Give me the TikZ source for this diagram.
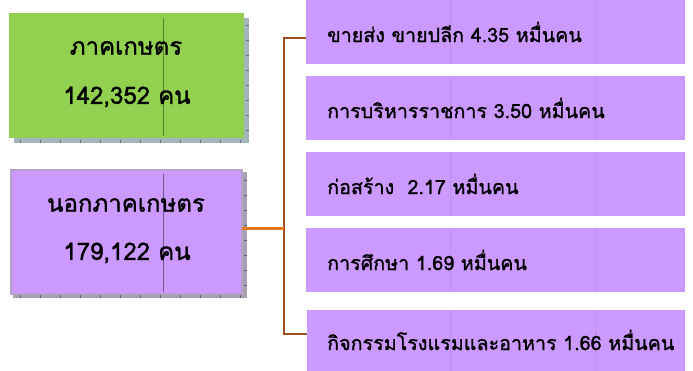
\documentclass[tikz,border=0pt]{standalone}
\usepackage{fontspec}
\newfontfamily\thai[Script=Thai,FakeBold=1.2]{Loma}
\begin{document}
\begin{tikzpicture}[x=1pt,y=-1pt,
  box/.style={inner sep=0pt,anchor=north west},
  rbox/.style={fill=violetfill,draw=none},
  rtext/.style={anchor=west,inner sep=0pt,font=\thai\fontsize{19.7}{24}\selectfont},
  ltext/.style={inner sep=0pt,font=\thai\fontsize{24}{26}\selectfont},
  brownline/.style={draw=brownc,line width=2pt},
  grid/.style={draw=#1,line width=0.5pt}]
\definecolor{violetfill}{HTML}{CC99FF}
\definecolor{greenfill}{HTML}{92D050}
\definecolor{shadowg}{HTML}{A3B6BE}
\definecolor{shadowp}{HTML}{A8A2B0}
\definecolor{brownc}{HTML}{A0501E}
\definecolor{orangec}{HTML}{E8761C}
\definecolor{borderp}{HTML}{B4A0C8}
\useasboundingbox (0,0) rectangle (693,371);
\fill[white] (0,0) rectangle (693,371);
% green box
\fill[shadowg] (14,18) rectangle (249,143);
\foreach \x in {20,40,...,240} \draw[grid=shadowg!60!black] (\x,140) -- (\x,143);
\foreach \y in {25,40,...,135} \draw[grid=shadowg!60!black] (246,\y) -- (249,\y);
\fill[greenfill] (9,13) rectangle (244,138);
\draw[grid=greenfill!60!black] (163,18) -- (163,136);
\node[box,minimum width=235pt,minimum height=125pt] (agri) at (9,13) {};
\node[ltext] (agriname) at (126,48) {ภาคเกษตร};
\node[ltext] (agrinum) at (127,97) {142,352 คน};
% purple left box
\fill[shadowp] (13,172) rectangle (247,298);
\foreach \x in {20,40,...,240} \draw[grid=shadowp!60!black] (\x,295) -- (\x,298);
\foreach \y in {180,195,...,290} \draw[grid=shadowp!60!black] (244,\y) -- (247,\y);
\fill[violetfill,draw=borderp,line width=2.5pt] (11,170) rectangle (242,294);
\draw[grid=violetfill!55!black] (163,174) -- (163,292);
\node[box,minimum width=231pt,minimum height=124pt] (nonagri) at (11,170) {};
\node[ltext] (nonname) at (126,205) {นอกภาคเกษตร};
\node[ltext] (nonnum) at (127,253) {179,122 คน};
% right boxes
\node[box,rbox,minimum width=379pt,minimum height=64pt] (r1) at (306,0) {};
\node[box,rbox,minimum width=379pt,minimum height=64pt] (r2) at (306,76) {};
\node[box,rbox,minimum width=379pt,minimum height=64pt] (r3) at (306,152) {};
\node[box,rbox,minimum width=379pt,minimum height=64pt] (r4) at (306,228) {};
\node[box,rbox,minimum width=378pt,minimum height=61pt] (r5) at (307,310) {};
\foreach \n in {r1,r2,r3,r4,r5}{
  \draw[draw=violetfill!93!black,line width=0.4pt] (450,0 |- \n.north) -- (450,0 |- \n.south);
  \draw[draw=violetfill!93!black,line width=0.4pt] (595,0 |- \n.north) -- (595,0 |- \n.south);
}
\node[rtext] (t1) at (327,32) {ขายส่ง ขายปลีก 4.35 หมื่นคน};
\node[rtext] (t2) at (327,108) {การบริหารราชการ 3.50 หมื่นคน};
\node[rtext] (t3) at (327,184) {ก่อสร้าง~ 2.17 หมื่นคน};
\node[rtext] (t4) at (327,260) {การศึกษา 1.69 หมื่นคน};
\node[rtext] (t5) at (327,340) {กิจกรรมโรงแรมและอาหาร 1.66 หมื่นคน};
% connectors
\coordinate (junc) at (284,229);
\coordinate (top) at (284,38);
\coordinate (bot) at (284,334);
\draw[brownline] (r1.west |- top) -- (top) -- (bot) -- (r5.west |- bot);
\draw[draw=orangec,line width=3pt] (nonagri.east |- junc) -- (junc);
\end{tikzpicture}
\end{document}
